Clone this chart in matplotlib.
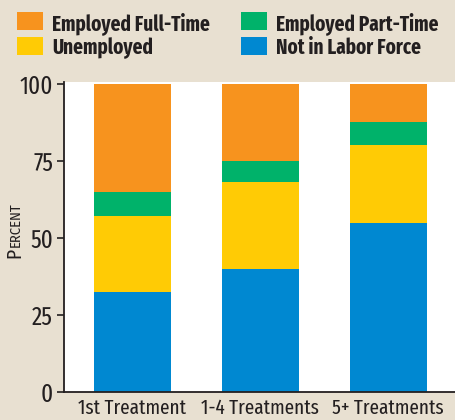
import numpy as np
import matplotlib.pyplot as plt
from matplotlib.patches import Rectangle

# Data
groups = ['1st Treatment', '1-4 Treatments', '5+ Treatments']
not_in_lf = [32.5, 40, 55]
unemployed = [24.5, 28, 25]
part_time = [8, 7, 7.5]
full_time = [35, 25, 12.5]
yticks = [0, 25, 50, 75, 100]

legend_labels = ['Employed Full-Time', 'Employed Part-Time', 'Unemployed', 'Not in Labor Force']

BG = '#e8e0d1'
C_FULL = '#f7931e'
C_PART = '#00b26a'
C_UNEMP = '#ffcb05'
C_NILF = '#0088d1'
DARK = '#231f20'
legend_colors = [C_FULL, C_PART, C_UNEMP, C_NILF]

TICK_FONT = ['Fira Sans Extra Condensed', 'DejaVu Sans']
LEG_FONT = ['Fira Sans Extra Condensed', 'DejaVu Sans']
LAB_FONT = ['Fira Sans Condensed', 'DejaVu Sans']
plt.rcParams['font.family'] = TICK_FONT

W, H = 456, 420
fig = plt.figure(figsize=(W / 100, H / 100), dpi=100, facecolor=BG)
ax = fig.add_axes([64 / W, 28 / H, 1 - 64 / W, 310 / H])
ax.set_facecolor('white')

x = np.arange(len(groups))
w = 0.6
b1 = np.array(not_in_lf)
b2 = b1 + np.array(unemployed)
b3 = b2 + np.array(part_time)
ax.bar(x, not_in_lf, w, color=C_NILF)
ax.bar(x, unemployed, w, bottom=b1, color=C_UNEMP)
ax.bar(x, part_time, w, bottom=b2, color=C_PART)
ax.bar(x, full_time, w, bottom=b3, color=C_FULL)

ax.set_xlim(-0.535, 2.53)
ax.set_ylim(0, 100.6)
ax.set_yticks(yticks)
ax.set_yticklabels([str(t) for t in yticks], fontsize=18, color=DARK)
ax.set_xticks(x)
ax.set_xticklabels(groups, fontsize=15, color=DARK)
ax.tick_params(axis='y', length=5, width=1.2, color=DARK, pad=3)
ax.tick_params(axis='x', length=0, pad=5)
for s in ['top', 'right']:
    ax.spines[s].set_visible(False)
for s in ['left', 'bottom']:
    ax.spines[s].set_color(DARK)
    ax.spines[s].set_linewidth(1.3)

# small-caps style axis label: big P, then smaller ERCENT stacked above it
p = fig.text(20 / W, 1 - 258 / H, 'P', rotation=90, rotation_mode='anchor',
             ha='left', va='baseline', fontsize=14, color=DARK, family=LAB_FONT)
fig.canvas.draw()
bb = p.get_window_extent()
fig.text(20 / W, (bb.y1 + 1) / H, 'ERCENT', rotation=90, rotation_mode='anchor',
         ha='left', va='baseline', fontsize=10.5, color=DARK, family=LAB_FONT)

# legend, two rows by two columns, laid out by hand
col_x = [17, 241]
row_y = [12, 37]
for i, (lab, col) in enumerate(zip(legend_labels, legend_colors)):
    cx = col_x[i % 2]
    ry = row_y[i // 2]
    fig.patches.append(Rectangle((cx / W, 1 - (ry + 18) / H), 26 / W, 18 / H,
                                 transform=fig.transFigure, facecolor=col,
                                 edgecolor='none'))
    fig.text((cx + 35) / W, 1 - (ry + 9) / H, lab, ha='left', va='center_baseline',
             fontsize=15, fontweight='bold', color=DARK, family=LEG_FONT)

fig.savefig('out.png', dpi=100, facecolor=BG)
